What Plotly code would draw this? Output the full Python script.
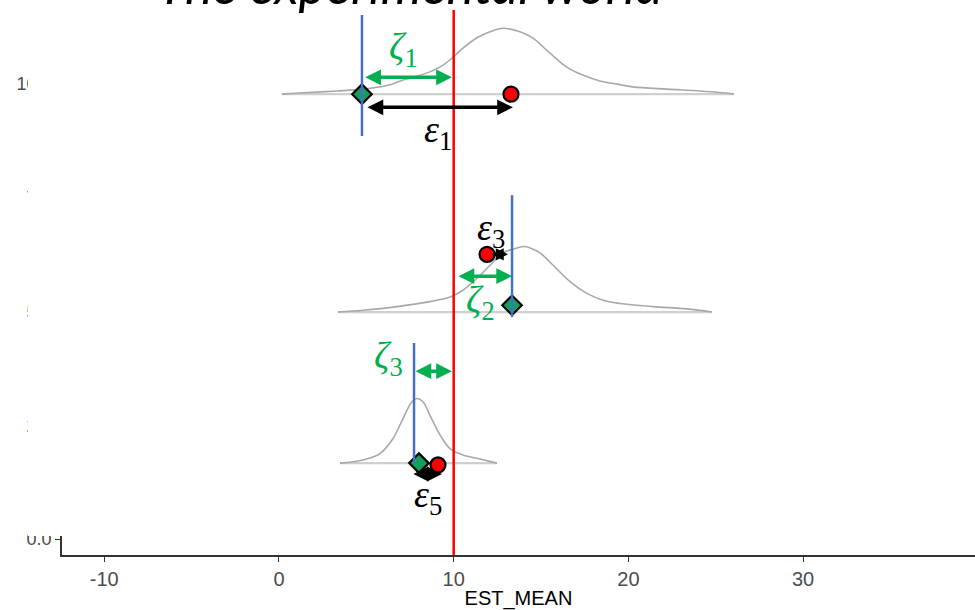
import plotly.graph_objects as go

# ---------------- data ----------------
ridge_baselines = [9.78, 4.99, 1.67]

dens1_x = [0.17, 1.37, 3.32, 4.81, 6.18, 7.10, 8.64, 9.39, 9.90, 10.53, 11.33, 12.08, 12.82,
           13.80, 14.54, 15.51, 16.49, 17.40, 18.37, 19.35, 20.26, 22.21, 24.10, 25.82, 26.04]
dens1_h = [0.0, 0.03, 0.07, 0.11, 0.19, 0.31, 0.49, 0.64, 0.79, 1.01, 1.24, 1.37, 1.45,
           1.37, 1.23, 0.90, 0.59, 0.42, 0.29, 0.22, 0.16, 0.11, 0.07, 0.015, 0.0]

dens2_x = [3.38, 4.81, 6.75, 8.64, 9.90, 10.53, 11.33, 12.08, 12.82, 13.62, 14.02, 14.37,
           14.94, 15.69, 16.66, 17.63, 18.55, 19.52, 21.41, 23.35, 24.79]
dens2_h = [0.0, 0.04, 0.12, 0.23, 0.35, 0.48, 0.74, 1.03, 1.30, 1.41, 1.44, 1.41,
           1.30, 1.03, 0.67, 0.41, 0.26, 0.19, 0.12, 0.07, 0.0]

dens3_x = [3.49, 4.81, 5.78, 6.53, 7.10, 7.61, 7.90, 8.24, 8.64, 9.22, 9.79, 10.53, 11.51, 12.48]
dens3_h = [0.0, 0.07, 0.21, 0.54, 0.98, 1.35, 1.42, 1.35, 1.05, 0.62, 0.32, 0.18, 0.09, 0.0]

true_value = 10
true_line_top = 11.63

blue_x = [4.75, 13.34, 7.73]
blue_y_top = [11.52, 7.56, 4.31]
blue_y_bottom = [8.86, 4.88, 1.67]

diamond_x = [4.75, 13.34, 8.01]
diamond_y = [9.78, 5.14, 1.67]
circle_x = [13.28, 11.91, 9.10]
circle_y = [9.78, 6.26, 1.63]

zeta_x0 = [4.85, 10.19, 7.73]
zeta_x1 = [9.90, 13.34, 9.90]
zeta_y = [10.15, 5.78, 3.69]

eps_x0 = [4.98, 12.08, 7.61]
eps_x1 = [13.39, 13.11, 9.33]
eps_y = [9.49, 6.26, 1.43]
eps_head = [0.9, 0.7, 0.85]

zeta_labels = ["1", "2", "3"]
zeta_label_x = [7.10, 11.51, 6.24]
zeta_label_y = [10.77, 5.21, 3.98]
eps_labels = ["1", "3", "5"]
eps_label_x = [9.10, 12.14, 8.53]
eps_label_y = [8.95, 6.79, 0.92]

x_ticks = [-10, 0, 10, 20, 30]
x_ticktext = ["-10", "0", "10", "20", "30"]
y_ticks = [0, 2.5, 5, 7.5, 10]
y_ticktext = ["0.0", "2.5", "5.0", "7.5", "10.0"]

title_text = "The experimental world"
x_title = "EST_MEAN"

# ---------------- styles ----------------
GREEN = "#00B050"
BLUE = "#4472C4"
RED = "#FF0000"
CURVE = "#A8A8A8"
BASE = "#CFCFCF"
MATHFONT = "Liberation Serif"
AXFONT = "Liberation Sans Narrow, Liberation Sans, Arial"

fig = go.Figure()

dens = [(dens1_x, dens1_h), (dens2_x, dens2_h), (dens3_x, dens3_h)]
for (xs, hs), b in zip(dens, ridge_baselines):
    fig.add_trace(go.Scatter(x=[xs[0], xs[-1]], y=[b, b], mode="lines",
                             line=dict(color=BASE, width=2.2), hoverinfo="skip", showlegend=False))
    fig.add_trace(go.Scatter(x=xs, y=[b + h for h in hs], mode="lines",
                             line=dict(color=CURVE, width=1.6, shape="spline", smoothing=1.0),
                             hoverinfo="skip", showlegend=False))

fig.add_trace(go.Scatter(x=diamond_x, y=diamond_y, mode="markers",
                         marker=dict(symbol="diamond", size=15, color="#13A15A",
                                     line=dict(color="black", width=2.2)),
                         showlegend=False))
fig.add_trace(go.Scatter(x=circle_x, y=circle_y, mode="markers",
                         marker=dict(symbol="circle", size=15, color=RED,
                                     line=dict(color="black", width=2.2)),
                         showlegend=False))

shapes = []
shapes.append(dict(type="line", xref="x", yref="y", x0=true_value, x1=true_value,
                   y0=-0.35, y1=true_line_top, line=dict(color=RED, width=2.5), layer="above"))
for bx, yt, yb in zip(blue_x, blue_y_top, blue_y_bottom):
    shapes.append(dict(type="line", xref="x", yref="y", x0=bx, x1=bx, y0=yb, y1=yt,
                       line=dict(color=BLUE, width=2.5), layer="above"))
# white cover hiding most of the y tick labels (cropped look of original)
shapes.append(dict(type="rect", xref="paper", yref="paper",
                   x0=(28 - 62) / 913, x1=4 / 913, y0=1 - 536 / 555, y1=1.01,
                   fillcolor="white", line=dict(width=0), layer="above"))

annotations = []
def dbl_arrow(x0, x1, y, color, w=3.5, s=0.9):
    return dict(x=x1, y=y, ax=x0, ay=y, xref="x", yref="y", axref="x", ayref="y",
                text="", showarrow=True, arrowside="end+start",
                arrowhead=2, startarrowhead=2, arrowsize=s, startarrowsize=s,
                arrowwidth=w, arrowcolor=color, standoff=0, startstandoff=0)

for x0, x1, y in zip(zeta_x0, zeta_x1, zeta_y):
    annotations.append(dbl_arrow(x0, x1, y, GREEN))
for x0, x1, y, s in zip(eps_x0, eps_x1, eps_y, eps_head):
    annotations.append(dbl_arrow(x0, x1, y, "black", s=s))

for lab, lx, ly in zip(zeta_labels, zeta_label_x, zeta_label_y):
    annotations.append(dict(x=lx, y=ly, xref="x", yref="y", showarrow=False,
                            text="<i>ζ</i><sub>" + lab + "</sub>",
                            font=dict(family=MATHFONT, size=38, color=GREEN)))
for lab, lx, ly in zip(eps_labels, eps_label_x, eps_label_y):
    annotations.append(dict(x=lx, y=ly, xref="x", yref="y", showarrow=False,
                            text="<i>ε</i><sub>" + lab + "</sub>",
                            font=dict(family=MATHFONT, size=38, color="black")))

annotations.append(dict(x=(410 - 62) / 913, y=1, xref="paper", yref="paper",
                        xanchor="center", yanchor="bottom", yshift=-17, showarrow=False,
                        text="<i>" + title_text + "</i>",
                        font=dict(family="Lato", size=52, color="black")))

fig.update_layout(
    width=975, height=610,
    margin=dict(l=62, r=0, t=0, b=55),
    plot_bgcolor="white", paper_bgcolor="white",
    shapes=shapes, annotations=annotations,
    xaxis=dict(range=[-12.42, 39.84], tickvals=x_ticks, ticktext=x_ticktext,
               showgrid=False, zeroline=False,
               showline=True, linecolor="#333333", linewidth=1.6,
               ticks="outside", ticklen=5, tickcolor="#333333", tickwidth=1.2,
               tickfont=dict(family=AXFONT, size=20, color="#4D4D4D"),
               title=dict(text=x_title, standoff=2,
                          font=dict(family=AXFONT, size=20, color="black"))),
    yaxis=dict(range=[-0.35, 11.85], tickvals=y_ticks, ticktext=y_ticktext,
               showgrid=False, zeroline=False,
               showline=True, linecolor="#333333", linewidth=1.6,
               ticks="outside", ticklen=5, tickcolor="#333333", tickwidth=1.2,
               tickfont=dict(family=AXFONT, size=18, color="#4D4D4D")),
)

fig.write_html("out.html", config={"displayModeBar": False},
               post_script="document.body.style.margin='0px';")
